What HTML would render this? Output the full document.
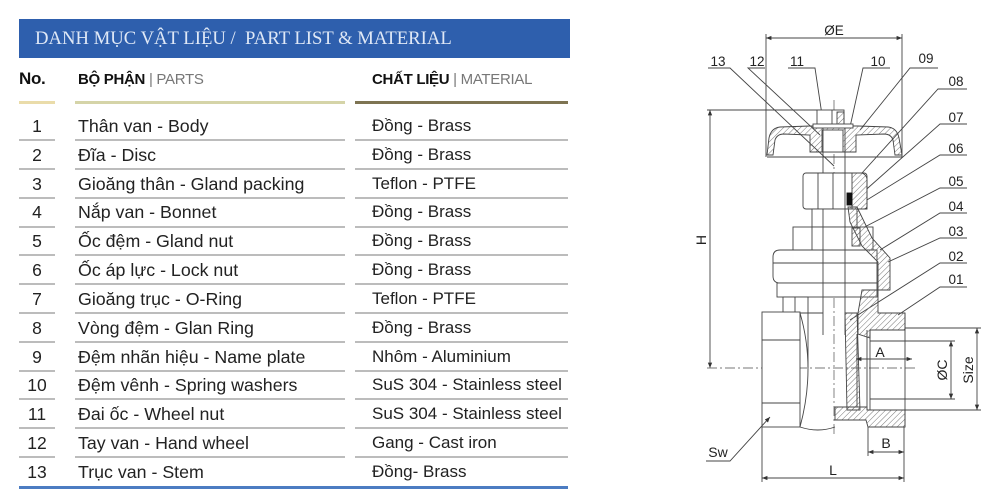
<!DOCTYPE html>
<html><head><meta charset="utf-8">
<style>
*{margin:0;padding:0;box-sizing:border-box}
html,body{width:1000px;height:500px;background:#fff;overflow:hidden}
body{position:relative;font-family:"Liberation Sans","DejaVu Sans",sans-serif;color:#222}
.banner{position:absolute;left:19px;top:19px;width:551px;height:39px;background:#2e5fad}
.title{position:absolute;left:35px;top:27px;font-family:"Liberation Serif",serif;font-size:18.7px;color:#dfe8f6;white-space:pre;line-height:24px}
.hd{position:absolute;top:70px;font-size:15px;line-height:20px;white-space:nowrap;letter-spacing:-0.3px}
.hd b{font-weight:bold;color:#111}
.hd span{color:#777}
.ul{position:absolute;height:3px;top:101px}
.num{position:absolute;left:19px;width:36px;text-align:center;font-size:17.5px;line-height:20px;white-space:nowrap}
.part{position:absolute;left:78px;font-size:17.8px;line-height:20px;white-space:nowrap}
.mat{position:absolute;left:372px;font-size:17px;line-height:20px;white-space:nowrap}
.sep{position:absolute;height:2px;background:#bcbcbc}
svg{position:absolute;left:0;top:0}
</style></head><body>
<div class="banner"></div>
<div class="title">DANH MỤC VẬT LIỆU /  PART LIST &amp; MATERIAL</div>

<div class="hd" style="left:19px;font-size:17px;top:69px"><b>No.</b></div>
<div class="hd" style="left:78px"><b>BỘ PHẬN</b><span> | PARTS</span></div>
<div class="hd" style="left:372px"><b>CHẤT LIỆU</b><span> | MATERIAL</span></div>
<div class="ul" style="left:19px;width:36px;background:#eadcaa"></div>
<div class="ul" style="left:75px;width:270px;background:#d5d4a8"></div>
<div class="ul" style="left:355px;width:213px;background:#7e7452"></div>

<div class="num" style="top:116px">1</div><div class="part" style="top:116px">Thân van - Body</div><div class="mat" style="top:116px">Đồng - Brass</div>
<div class="num" style="top:145px">2</div><div class="part" style="top:145px">Đĩa - Disc</div><div class="mat" style="top:145px">Đồng - Brass</div>
<div class="num" style="top:174px">3</div><div class="part" style="top:174px">Gioăng thân - Gland packing</div><div class="mat" style="top:174px">Teflon - PTFE</div>
<div class="num" style="top:202px">4</div><div class="part" style="top:202px">Nắp van - Bonnet</div><div class="mat" style="top:202px">Đồng - Brass</div>
<div class="num" style="top:231px">5</div><div class="part" style="top:231px">Ốc đệm - Gland nut</div><div class="mat" style="top:231px">Đồng - Brass</div>
<div class="num" style="top:260px">6</div><div class="part" style="top:260px">Ốc áp lực - Lock nut</div><div class="mat" style="top:260px">Đồng - Brass</div>
<div class="num" style="top:289px">7</div><div class="part" style="top:289px">Gioăng trục - O-Ring</div><div class="mat" style="top:289px">Teflon - PTFE</div>
<div class="num" style="top:318px">8</div><div class="part" style="top:318px">Vòng đệm - Glan Ring</div><div class="mat" style="top:318px">Đồng - Brass</div>
<div class="num" style="top:347px">9</div><div class="part" style="top:347px">Đệm nhãn hiệu - Name plate</div><div class="mat" style="top:347px">Nhôm - Aluminium</div>
<div class="num" style="top:375px">10</div><div class="part" style="top:375px">Đệm vênh - Spring washers</div><div class="mat" style="top:375px">SuS 304 - Stainless steel</div>
<div class="num" style="top:404px">11</div><div class="part" style="top:404px">Đai ốc - Wheel nut</div><div class="mat" style="top:404px">SuS 304 - Stainless steel</div>
<div class="num" style="top:433px">12</div><div class="part" style="top:433px">Tay van - Hand wheel</div><div class="mat" style="top:433px">Gang - Cast iron</div>
<div class="num" style="top:462px">13</div><div class="part" style="top:462px">Trục van - Stem</div><div class="mat" style="top:462px">Đồng- Brass</div>

<!-- separators -->
<div class="sep" style="top:139px;left:19px;width:36px"></div><div class="sep" style="top:139px;left:75px;width:270px"></div><div class="sep" style="top:139px;left:355px;width:213px"></div>
<div class="sep" style="top:168px;left:19px;width:36px"></div><div class="sep" style="top:168px;left:75px;width:270px"></div><div class="sep" style="top:168px;left:355px;width:213px"></div>
<div class="sep" style="top:197px;left:19px;width:36px"></div><div class="sep" style="top:197px;left:75px;width:270px"></div><div class="sep" style="top:197px;left:355px;width:213px"></div>
<div class="sep" style="top:226px;left:19px;width:36px"></div><div class="sep" style="top:226px;left:75px;width:270px"></div><div class="sep" style="top:226px;left:355px;width:213px"></div>
<div class="sep" style="top:254px;left:19px;width:36px"></div><div class="sep" style="top:254px;left:75px;width:270px"></div><div class="sep" style="top:254px;left:355px;width:213px"></div>
<div class="sep" style="top:283px;left:19px;width:36px"></div><div class="sep" style="top:283px;left:75px;width:270px"></div><div class="sep" style="top:283px;left:355px;width:213px"></div>
<div class="sep" style="top:312px;left:19px;width:36px"></div><div class="sep" style="top:312px;left:75px;width:270px"></div><div class="sep" style="top:312px;left:355px;width:213px"></div>
<div class="sep" style="top:341px;left:19px;width:36px"></div><div class="sep" style="top:341px;left:75px;width:270px"></div><div class="sep" style="top:341px;left:355px;width:213px"></div>
<div class="sep" style="top:370px;left:19px;width:36px"></div><div class="sep" style="top:370px;left:75px;width:270px"></div><div class="sep" style="top:370px;left:355px;width:213px"></div>
<div class="sep" style="top:398px;left:19px;width:36px"></div><div class="sep" style="top:398px;left:75px;width:270px"></div><div class="sep" style="top:398px;left:355px;width:213px"></div>
<div class="sep" style="top:427px;left:19px;width:36px"></div><div class="sep" style="top:427px;left:75px;width:270px"></div><div class="sep" style="top:427px;left:355px;width:213px"></div>
<div class="sep" style="top:456px;left:19px;width:36px"></div><div class="sep" style="top:456px;left:75px;width:270px"></div><div class="sep" style="top:456px;left:355px;width:213px"></div>
<div style="position:absolute;left:19px;top:486px;width:549px;height:3px;background:#4c7cc2"></div>

<svg width="1000" height="500" viewBox="0 0 1000 500" xmlns="http://www.w3.org/2000/svg">
<defs>
<pattern id="h" patternUnits="userSpaceOnUse" width="4" height="4" patternTransform="rotate(45)">
<line x1="0" y1="0" x2="0" y2="4" stroke="#666" stroke-width="0.9"/>
</pattern>
<marker id="ar" viewBox="0 0 10 10" refX="10" refY="5" markerWidth="6" markerHeight="6" orient="auto-start-reverse">
<path d="M0,1 L10,5 L0,9 Z" fill="#333"/>
</marker>
</defs>
<g fill="none" stroke="#444" stroke-width="0.9">
<!-- OE dim -->
<line x1="766" y1="38" x2="902" y2="38" marker-start="url(#ar)" marker-end="url(#ar)"/>
<line x1="766" y1="34" x2="766" y2="157"/>
<line x1="902" y1="34" x2="902" y2="157"/>
<!-- H dim -->
<line x1="710" y1="110" x2="710" y2="368" marker-start="url(#ar)" marker-end="url(#ar)"/>
<line x1="707" y1="110" x2="820" y2="110"/>
<!-- centerlines -->
<line x1="707" y1="368" x2="915" y2="368" stroke-dasharray="10,3,2,3" stroke="#777"/>
<line x1="834" y1="100" x2="834" y2="435" stroke-dasharray="10,3,2,3" stroke="#777"/>

<!-- label underlines & leaders -->
<polyline points="708,68 730,68 834,166"/>
<polyline points="765,68 748,68 820,135"/>
<polyline points="788,68 815,68 822,115"/>
<polyline points="890,68 863,68 850,127"/>
<polyline points="938,68 910,68 860,130"/>
<polyline points="967,89 938,89 862,173"/>
<polyline points="967,124 940,124 860,195"/>
<polyline points="967,155 940,155 862,203"/>
<polyline points="967,188 940,188 853,233"/>
<polyline points="967,213 940,213 880,250"/>
<polyline points="967,238 940,238 888,262"/>
<polyline points="967,263 940,263 850,320"/>
<polyline points="967,287 940,287 898,315"/>

<!-- handwheel -->
<path d="M767,155 L769,138 Q771,128 780,127 L810,126 L858,126 L888,127 Q897,128 899,138 L902,155 L895,155 L893,140 Q891,134 884,134 L856,135 L856,152 L810,152 L810,135 L784,134 Q777,134 775,140 L773,155 Z" fill="url(#h)"/>
<rect x="822" y="130" width="21" height="22" fill="#fff"/>
<line x1="767" y1="157" x2="902" y2="157"/>
<!-- nut -->
<rect x="817" y="110" width="27" height="15" fill="#fff"/>
<line x1="832" y1="110" x2="832" y2="125"/>
<rect x="837" y="112" width="7" height="13" fill="url(#h)"/>
<rect x="813" y="124" width="40" height="4" fill="#fff"/>
<!-- stem -->
<line x1="823" y1="128" x2="823" y2="335"/>
<line x1="845" y1="128" x2="845" y2="335"/>
<!-- gland nut -->
<rect x="803" y="173" width="64" height="36" rx="3" fill="#fff"/>
<line x1="818" y1="173" x2="818" y2="209"/>
<line x1="833" y1="173" x2="833" y2="209"/>
<line x1="845" y1="173" x2="845" y2="209"/>
<path d="M852,173 L862,173 Q867,175 867,180 L867,209 L852,209 Z" fill="url(#h)"/>
<rect x="847" y="193" width="5" height="12" fill="#111" stroke="#111"/>
<!-- neck -->
<rect x="812" y="209" width="45" height="18" fill="#fff"/>
<line x1="823" y1="209" x2="823" y2="227"/>
<line x1="845" y1="209" x2="845" y2="227"/>
<!-- bonnet upper -->
<rect x="793" y="227" width="80" height="23" fill="#fff"/>
<line x1="812" y1="227" x2="812" y2="250"/>
<line x1="823" y1="227" x2="823" y2="250"/>
<line x1="845" y1="227" x2="845" y2="250"/>
<!-- bonnet large -->
<path d="M780,250 L877,250 L877,283 L780,283 Q773,283 773,276 L773,257 Q773,250 780,250 Z" fill="#fff"/>
<line x1="773" y1="263" x2="877" y2="263"/>
<line x1="823" y1="250" x2="823" y2="283"/>
<line x1="845" y1="250" x2="845" y2="283"/>
<rect x="777" y="283" width="100" height="14" fill="#fff"/>
<line x1="823" y1="283" x2="823" y2="297"/>
<line x1="845" y1="283" x2="845" y2="297"/>
<!-- bonnet hatched wall -->
<path d="M848,207 L857,207 L872,238 L890,258 L890,290 L878,290 L878,262 L862,246 L850,222 Z" fill="url(#h)"/>
<rect x="852" y="228" width="8" height="18" fill="url(#h)"/>
<!-- body neck -->
<rect x="783" y="297" width="25" height="16" fill="#fff"/>
<line x1="795" y1="297" x2="795" y2="313"/>
<!-- body left hex -->
<rect x="762" y="312" width="38" height="115" fill="#fff"/>
<line x1="762" y1="340" x2="800" y2="340"/>
<line x1="762" y1="403" x2="800" y2="403"/>
<path d="M800,313 Q816,368 800,427"/>
<path d="M808,313 L808,368"/>
<path d="M800,427 Q818,433 835,427"/>
<line x1="800" y1="313" x2="823" y2="313"/>
<!-- disc -->
<path d="M845,313 L857,313 L860,410 L847,410 Z" fill="url(#h)"/>
<!-- right body top block -->
<path d="M862,290 L878,290 L878,313 L905,313 L905,330 L870,330 L870,338 L858,334 L858,313 Z" fill="url(#h)"/>
<!-- right body bottom block -->
<path d="M835,407 L867,407 L867,410 L905,410 L905,427 L868,427 L866,420 L835,420 Z" fill="url(#h)"/>
<line x1="905" y1="313" x2="905" y2="427"/>
<line x1="867" y1="330" x2="867" y2="410"/>
<line x1="870" y1="330" x2="870" y2="410"/>
<line x1="857" y1="334" x2="857" y2="407"/>
<!-- dims -->
<line x1="905" y1="328" x2="981" y2="328"/>
<line x1="905" y1="410" x2="981" y2="410"/>
<line x1="977" y1="328" x2="977" y2="410" marker-start="url(#ar)" marker-end="url(#ar)"/>
<line x1="870" y1="341" x2="955" y2="341"/>
<line x1="870" y1="399" x2="955" y2="399"/>
<line x1="951" y1="341" x2="951" y2="399" marker-start="url(#ar)" marker-end="url(#ar)"/>
<line x1="856" y1="359" x2="912" y2="359" marker-start="url(#ar)" marker-end="url(#ar)"/>
<line x1="868" y1="427" x2="868" y2="456"/>
<line x1="904" y1="427" x2="904" y2="482"/>
<line x1="868" y1="452" x2="904" y2="452" marker-start="url(#ar)" marker-end="url(#ar)"/>
<line x1="762" y1="427" x2="762" y2="482"/>
<line x1="762" y1="478" x2="904" y2="478" marker-start="url(#ar)" marker-end="url(#ar)"/>
<polyline points="706,461 730,461 770,417" marker-end="url(#ar)"/>
</g>
<g font-family="Liberation Sans, sans-serif" fill="#222" font-size="13.5">
<text x="834" y="35" text-anchor="middle">ØE</text>
<text x="718" y="66" text-anchor="middle">13</text>
<text x="757" y="66" text-anchor="middle">12</text>
<text x="797" y="66" text-anchor="middle">11</text>
<text x="878" y="66" text-anchor="middle">10</text>
<text x="926" y="63" text-anchor="middle">09</text>
<text x="956" y="86" text-anchor="middle">08</text>
<text x="956" y="122" text-anchor="middle">07</text>
<text x="956" y="153" text-anchor="middle">06</text>
<text x="956" y="186" text-anchor="middle">05</text>
<text x="956" y="211" text-anchor="middle">04</text>
<text x="956" y="236" text-anchor="middle">03</text>
<text x="956" y="261" text-anchor="middle">02</text>
<text x="956" y="284" text-anchor="middle">01</text>
<text x="880" y="357" text-anchor="middle" font-size="14">A</text>
<text x="886" y="448" text-anchor="middle" font-size="14">B</text>
<text x="833" y="475" text-anchor="middle" font-size="14">L</text>
<text x="718" y="457" text-anchor="middle" font-size="14">Sw</text>
<text transform="translate(706,240) rotate(-90)" text-anchor="middle" font-size="14">H</text>
<text transform="translate(947,370) rotate(-90)" text-anchor="middle" font-size="14">ØC</text>
<text transform="translate(973,370) rotate(-90)" text-anchor="middle" font-size="14">Size</text>
</g>
</svg>
</body></html>
